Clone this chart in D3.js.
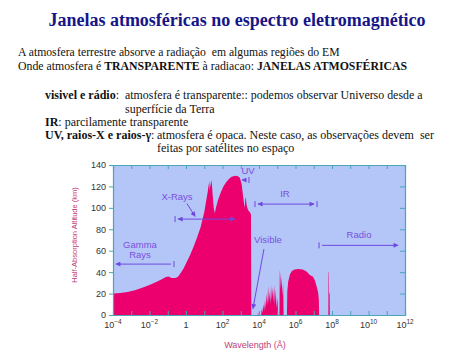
<!DOCTYPE html>
<html lang="pt">
<head>
<meta charset="UTF-8">
<title>Janelas atmosféricas</title>
<script src="https://d3js.org/d3.v7.min.js"></script>
<style>
  body { margin: 0; background: #fff; }
  svg { display: block; }
  .body-text { font-family: "Liberation Serif", "Times New Roman", serif; fill: #111; }
  .axis text { font-family: "Liberation Sans", Arial, sans-serif; font-size: 9px; fill: #333; }
  .axis path, .axis line { stroke: #4aa6b6; }
  .note { font-family: "Liberation Sans", Arial, sans-serif; font-size: 9.5px; fill: #7b4fe0; }
</style>
</head>
<body>
<svg id="chart" width="474" height="355"></svg>
<script>
// absorption curve: log10(wavelength in Å) and half-absorption altitude (km)
const logWavelength = [
  -4, -3.6, -3.2, -2.8, -2.4, -2.0, -1.6, -1.3, -1.1, -0.95, -0.8, -0.6, -0.45, -0.3, -0.15,
  0.0, 0.2, 0.4, 0.6, 0.8, 1.0, 1.12, 1.2, 1.24, 1.27, 1.3, 1.34, 1.38, 1.42, 1.46, 1.52,
  1.58, 1.64, 1.75, 1.9, 2.05, 2.2, 2.35, 2.5, 2.7, 2.85, 2.95, 3.05, 3.12, 3.18, 3.22,
  3.25, 3.28, 3.31, 3.34, 3.4, 3.5, 3.56, 3.58,
  3.93, 3.95, 3.97, 4.12, 4.15, 4.19, 4.24, 4.28, 4.33, 4.37, 4.42, 4.46, 4.50, 4.54,
  4.58, 4.62, 4.66, 4.70, 4.74, 4.78, 4.83, 4.87, 4.92, 4.96, 5.01, 5.05, 5.12, 5.14,
  5.17, 5.2, 5.24, 5.28, 5.32, 5.35,
  5.53, 5.55, 5.6, 5.7, 5.8, 5.95, 6.15, 6.4, 6.6, 6.8, 6.95, 7.07, 7.17, 7.24, 7.28, 7.29,
  7.8, 7.81, 7.83, 7.84, 7.87, 7.88, 12
];
const altitudeKm = [
  20, 20.5, 21.5, 23, 25.5, 28, 31, 33.5, 35.5, 36, 34.5, 34.5, 35.5, 39, 43,
  48, 55, 63, 72, 82, 96, 108, 116, 123, 116, 125, 119, 126, 122, 112, 100,
  95, 100, 107, 114, 120, 124, 127, 129, 130, 129.5, 128, 122, 112, 104, 100,
  108, 110, 104, 101, 98, 96, 94, 0,
  0, 3, 0, 0, 6, 2, 10, 4, 14, 6, 20, 9, 27, 12,
  22, 10, 28, 14, 26, 12, 28, 10, 24, 6, 16, 0, 0, 42,
  36, 24, 36, 18, 30, 0,
  0, 22, 31, 38, 41, 42.5, 43, 42.5, 40.5, 37, 36, 32, 26, 21, 14, 0,
  0, 40, 40, 20, 20, 0, 0
];

// y ticks and x tick exponents
const altTicks = [0, 20, 40, 60, 80, 100, 120, 140];
const decadeTicks = d3.range(-4, 13);
const labelledDecades = [-4, -2, 0, 2, 4, 6, 8, 10, 12];

// spectral bands (log10 Å range, altitude of the arrow in km)
const bands = [
  { name: "Gamma Rays", from: -3.84, to: -0.66, alt: 47.5, tickL: false, headL: true,  headR: false, tickR: true },
  { name: "X-Rays",     from: -0.6,  to: 2.68,  alt: 89.5, tickL: true,  headL: true,  headR: true,  tickR: false },
  { name: "UV",         from: 3.07,  to: 3.45,  alt: 126,  tickL: false, headL: true,  headR: false, tickR: true },
  { name: "IR",         from: 3.78,  to: 7.18,  alt: 103.5, tickL: true, headL: true,  headR: true,  tickR: true },
  { name: "Radio",      from: 7.29,  to: 11.62, alt: 65,   tickL: true,  headL: false, headR: true,  tickR: false }
];
// band labels (anchor in log10 Å / km)
const bandLabels = [
  { lines: ["Gamma", "Rays"], x: -2.52, alt: 63 },
  { lines: ["X-Rays"], x: -0.49, alt: 107 },
  { lines: ["UV"], x: 3.40, alt: 131.5 },
  { lines: ["IR"], x: 5.42, alt: 110 },
  { lines: ["Visible"], x: 4.49, alt: 67 },
  { lines: ["Radio"], x: 9.48, alt: 72 }
];
const pointers = [
  { x1: 0.05, a1: 104, x2: 0.5, a2: 92 },
  { x1: 4.27, a1: 61.5, x2: 3.67, a2: 6 }
];

const svg = d3.select("#chart");

svg.append("text")
  .attr("x", 237).attr("y", 26)
  .attr("text-anchor", "middle")
  .style("font-family", "'Liberation Serif', 'Times New Roman', serif")
  .style("font-weight", "bold")
  .style("font-size", "18px")
  .style("fill", "#161687")
  .text("Janelas atmosféricas no espectro eletromagnético");

// paragraph lines: [x, baseline, size, segments]
const paragraph = [
  [18, 56, 11.7, [["A atmosfera terrestre absorve a radiação  em algumas regiões do EM", false]]],
  [18, 70, 11.8, [["Onde atmosfera é ", false], ["TRANSPARENTE", true], [" à radiacao: ", false], ["JANELAS ATMOSFÉRICAS", true]]],
  [45, 99, 12, [["visivel e rádio", true], [":", false]]],
  [125, 99, 11.9, [["atmosfera é transparente:: podemos observar Universo desde a", false]]],
  [125, 113, 12, [["superfície da Terra", false]]],
  [45, 126, 12, [["IR", true], [": parcilamente transparente", false]]],
  [45, 139, 12, [["UV, raios-X e raios-γ", true], [":", false]]],
  [157, 139, 12, [["atmosfera é opaca. Neste caso, as observações devem  ser", false]]],
  [157, 152, 12, [["feitas por satélites no espaço", false]]]
];
paragraph.forEach(([x, y, size, segs]) => {
  const t = svg.append("text").attr("class", "body-text")
    .attr("x", x).attr("y", y)
    .attr("xml:space", "preserve")
    .style("font-size", size + "px");
  segs.forEach(([s, b]) => t.append("tspan").style("font-weight", b ? "bold" : "normal").text(s));
});

// chart
const margin = { left: 113, top: 165, right: 405, bottom: 315 };
const x = d3.scaleLog().domain([1e-4, 1e12]).range([margin.left, margin.right]);
const y = d3.scaleLinear().domain([0, 140]).range([margin.bottom, margin.top]);
const X = e => x(Math.pow(10, e));

const violet = "#7048e0";
const defs = svg.append("defs");
defs.append("clipPath").attr("id", "plot-clip")
  .append("rect").attr("x", margin.left).attr("y", margin.top)
  .attr("width", margin.right - margin.left).attr("height", margin.bottom - margin.top);
defs.append("marker").attr("id", "head")
  .attr("viewBox", "0 0 10 10").attr("refX", 9).attr("refY", 5)
  .attr("markerWidth", 6).attr("markerHeight", 5).attr("markerUnits", "userSpaceOnUse")
  .attr("orient", "auto-start-reverse")
  .append("path").attr("d", "M0,0L10,5L0,10Z").attr("fill", violet);

svg.append("rect")
  .attr("x", margin.left).attr("y", margin.top)
  .attr("width", margin.right - margin.left).attr("height", margin.bottom - margin.top)
  .attr("fill", "#b3c6f7");

const pts = logWavelength.map((e, i) => [e, altitudeKm[i]]);
svg.append("path")
  .datum(pts)
  .attr("clip-path", "url(#plot-clip)")
  .attr("fill", "#ec006e")
  .attr("d", d3.area().x(d => X(d[0])).y0(y(0)).y1(d => y(d[1])));

// axes
svg.append("g").attr("class", "axis")
  .attr("transform", `translate(${margin.left},0)`)
  .call(d3.axisLeft(y).tickValues(altTicks).tickSize(4).tickPadding(3));
svg.append("g").attr("class", "axis")
  .attr("transform", `translate(${margin.right},0)`)
  .call(d3.axisRight(y).tickValues(altTicks).tickSize(-5).tickFormat(""));
svg.append("g").attr("class", "axis")
  .attr("transform", `translate(0,${margin.top})`)
  .call(d3.axisTop(x).tickValues(decadeTicks.map(e => Math.pow(10, e))).tickSize(-4).tickFormat(""));
const bottom = svg.append("g").attr("class", "axis")
  .attr("transform", `translate(0,${margin.bottom})`)
  .call(d3.axisBottom(x).tickValues(decadeTicks.map(e => Math.pow(10, e))).tickSize(-4).tickFormat(""));
svg.selectAll(".axis .domain").attr("stroke-width", 1.2);

labelledDecades.forEach(e => {
  const t = bottom.append("text")
    .attr("x", X(e)).attr("y", 13)
    .attr("text-anchor", "middle")
    .attr("fill", "#333");
  if (e === 0) { t.text("1"); return; }
  t.append("tspan").text("10");
  t.append("tspan").attr("dy", -4).style("font-size", "6.5px").text(e < 0 ? "\u2212" + (-e) : e);
});

svg.append("text")
  .attr("x", 255).attr("y", 348)
  .attr("text-anchor", "middle")
  .style("font-family", "'Liberation Sans', Arial, sans-serif")
  .style("font-size", "9px").style("fill", "#c0407c")
  .text("Wavelength (Å)");
svg.append("text")
  .attr("transform", "translate(77,235) rotate(-90)")
  .attr("text-anchor", "middle")
  .style("font-family", "'Liberation Sans', Arial, sans-serif")
  .style("font-size", "7.5px").style("fill", "#c0407c")
  .text("Half-Absorption Altitude (km)");

// band arrows
const ann = svg.append("g").attr("stroke", violet).attr("stroke-width", 1);
bands.forEach(b => {
  const yy = y(b.alt);
  const x1 = X(b.from), x2 = X(b.to);
  ann.append("line")
    .attr("x1", x1 + (b.tickL ? 3 : 0)).attr("x2", x2 - (b.tickR ? 3 : 0))
    .attr("y1", yy).attr("y2", yy)
    .attr("marker-start", b.headL ? "url(#head)" : null)
    .attr("marker-end", b.headR ? "url(#head)" : null);
  if (b.tickL) ann.append("line").attr("x1", x1).attr("x2", x1).attr("y1", yy - 3).attr("y2", yy + 3);
  if (b.tickR) ann.append("line").attr("x1", x2).attr("x2", x2).attr("y1", yy - 3).attr("y2", yy + 3);
});
pointers.forEach(p => {
  ann.append("line")
    .attr("x1", X(p.x1)).attr("y1", y(p.a1))
    .attr("x2", X(p.x2)).attr("y2", y(p.a2))
    .attr("marker-end", "url(#head)");
});
bandLabels.forEach(l => {
  const t = svg.append("text").attr("class", "note")
    .attr("x", X(l.x)).attr("y", y(l.alt))
    .attr("text-anchor", "middle");
  l.lines.forEach((s, i) => t.append("tspan").attr("x", X(l.x)).attr("dy", i ? 10 : 0).text(s));
});
</script>
</body>
</html>
